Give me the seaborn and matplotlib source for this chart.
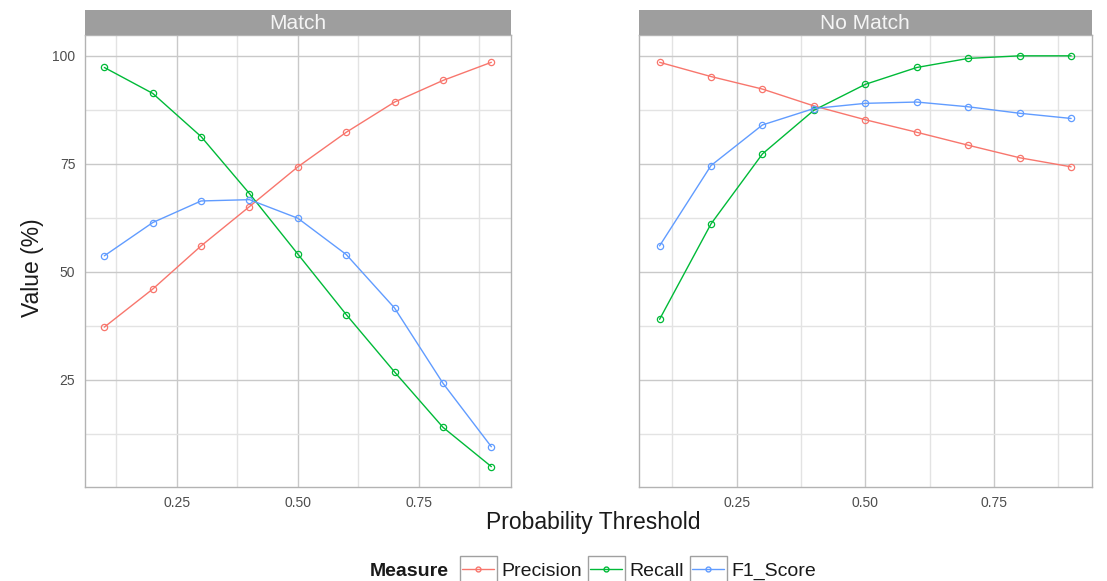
import numpy as np
import pandas as pd
import matplotlib
matplotlib.use("Agg")
import matplotlib.pyplot as plt
import seaborn as sns
from matplotlib.lines import Line2D
from matplotlib.patches import Rectangle
from matplotlib.ticker import FixedLocator

thresholds = [0.1, 0.2, 0.3, 0.4, 0.5, 0.6, 0.7, 0.8, 0.9]
measures = ["Precision", "Recall", "F1_Score"]
panels = ["Match", "No Match"]

match_precision = [37.2, 46.0, 56.0, 65.1, 74.3, 82.3, 89.3, 94.3, 98.5]
match_recall = [97.3, 91.3, 81.3, 68.1, 54.1, 40.1, 26.8, 14.0, 4.9]
match_f1 = [53.7, 61.4, 66.4, 66.7, 62.4, 54.0, 41.6, 24.2, 9.5]

nomatch_precision = [98.5, 95.2, 92.3, 88.4, 85.2, 82.3, 79.3, 76.4, 74.3]
nomatch_recall = [39.0, 61.1, 77.3, 87.4, 93.4, 97.3, 99.4, 100.0, 100.0]
nomatch_f1 = [56.0, 74.6, 84.0, 87.8, 89.0, 89.3, 88.2, 86.7, 85.5]

y_ticks = [25, 50, 75, 100]
y_minor = [12.5, 37.5, 62.5, 87.5]
x_ticks = [0.25, 0.50, 0.75]
x_tick_labels = ["0.25", "0.50", "0.75"]
x_minor = [0.125, 0.375, 0.625, 0.875]

colors = {"Precision": "#F8766D", "Recall": "#00BA38", "F1_Score": "#619CFF"}

rows = []
for panel, series in zip(panels, [(match_precision, match_recall, match_f1),
                                  (nomatch_precision, nomatch_recall, nomatch_f1)]):
    for m, vals in zip(measures, series):
        for t, v in zip(thresholds, vals):
            rows.append({"Panel": panel, "Measure": m, "Threshold": t, "Value": v})
df = pd.DataFrame(rows)

sns.set_theme(style="white")
plt.rcParams["font.family"] = ["Liberation Sans", "DejaVu Sans"]

W, H = 1107, 581
fig = plt.figure(figsize=(W / 100, H / 100), dpi=100)

def fr(x0, x1, ytop, ybot):
    return [x0 / W, 1 - ybot / H, (x1 - x0) / W, (ybot - ytop) / H]

panel_boxes = [(85, 510.7), (639, 1091.7)]
ytop, ybot = 35.3, 486.7
strip_top = 9.5

axes = []
for i, (panel, (x0, x1)) in enumerate(zip(panels, panel_boxes)):
    ax = fig.add_axes(fr(x0, x1, ytop, ybot))
    sub = df[df["Panel"] == panel]
    sns.lineplot(data=sub, x="Threshold", y="Value", hue="Measure",
                 hue_order=measures, palette=colors, marker="o",
                 linewidth=1.0, markersize=4.5, legend=False, ax=ax)
    for ln in ax.get_lines():
        c = ln.get_color()
        ln.set_markeredgecolor(c)
        ln.set_markerfacecolor("none")
        ln.set_markeredgewidth(0.9)
    ax.set_xlim(0.06, 0.94)
    ax.set_ylim(0.25, 104.75)
    ax.set_xticks(x_ticks)
    ax.set_xticklabels(x_tick_labels)
    ax.set_yticks(y_ticks)
    ax.xaxis.set_minor_locator(FixedLocator(x_minor))
    ax.yaxis.set_minor_locator(FixedLocator(y_minor))
    ax.grid(which="major", color="#C9C9C9", linewidth=1.0)
    ax.grid(which="minor", color="#E3E3E3", linewidth=1.0)
    ax.set_axisbelow(True)
    for s in ax.spines.values():
        s.set_color("#B3B3B3")
        s.set_linewidth(1.0)
    ax.tick_params(axis="both", which="major", length=3, width=0.8,
                   color="#B3B3B3", labelsize=10, labelcolor="#4D4D4D", pad=4)
    ax.tick_params(which="minor", length=0)
    ax.set_xlabel("")
    ax.set_ylabel("")
    if i == 1:
        ax.tick_params(axis="y", labelleft=False, length=0)
    # strip
    sax = fig.add_axes(fr(x0, x1, strip_top, ytop))
    sax.set_facecolor("#9E9E9E")
    sax.set_xticks([]); sax.set_yticks([])
    for s in sax.spines.values():
        s.set_visible(False)
    sax.text(0.5, 0.45, panel, ha="center", va="center", color="#F5F5F5",
             fontsize=15, transform=sax.transAxes)
    axes.append(ax)

fig.text(593 / W, 1 - 522 / H, "Probability Threshold", ha="center", va="center",
         fontsize=16.5, color="#1A1A1A")
fig.text(33 / W, 1 - 268 / H, "Value (%)", ha="center", va="center",
         rotation=90, fontsize=16.5, color="#1A1A1A")

handles = [Line2D([], [], color=colors[m], marker="o", markerfacecolor="none",
                  markeredgecolor=colors[m], markersize=3.5, linewidth=1.0)
           for m in measures]
leg = fig.legend(handles, measures, loc="center left",
                 bbox_to_anchor=(462 / W, 1 - 571 / H), ncol=3, frameon=False,
                 fontsize=14, handlelength=1.65, handletextpad=0.35,
                 columnspacing=0.45, borderpad=0.0, borderaxespad=0.0)
for t in leg.get_texts():
    t.set_color("#1A1A1A")
fig.text(449 / W, 1 - 571 / H, "Measure", ha="right", va="center",
         fontsize=14, fontweight="bold", color="#1A1A1A")

fig.canvas.draw()
renderer = fig.canvas.get_renderer()
for h in leg.legend_handles:
    bb = h.get_window_extent(renderer)
    cx = (bb.x0 + bb.x1) / 2
    cy = (bb.y0 + bb.y1) / 2
    bw, bh = 37, 26
    rect = Rectangle(((cx - bw / 2) / W, (cy - bh / 2) / H), bw / W, bh / H,
                     transform=fig.transFigure, fill=False,
                     edgecolor="#A0A0A0", linewidth=1.0)
    fig.patches.append(rect)

fig.savefig("out.png", dpi=100)
